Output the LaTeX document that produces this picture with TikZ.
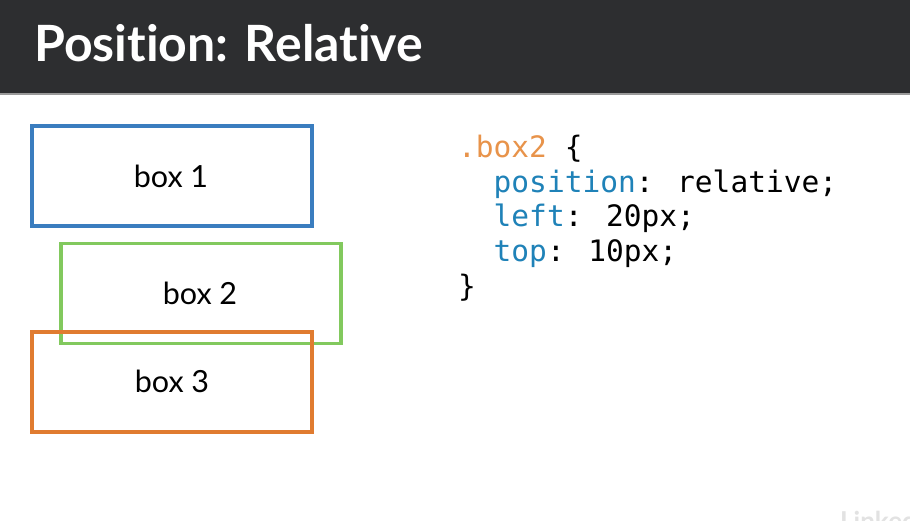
\documentclass[tikz,border=0pt]{standalone}
\usepackage{fontspec}
\setmainfont{Lato}[Ligatures=NoCommon]
\newfontfamily\codefont{DejaVu Sans Mono}
\newfontfamily\titlefont{Lato}[UprightFont=* Bold, Ligatures=NoCommon]
\definecolor{barbg}{HTML}{2D2E30}
\definecolor{barline}{HTML}{9A9A9A}
\definecolor{boxblue}{HTML}{3A7DBF}
\definecolor{boxgreen}{HTML}{82C95E}
\definecolor{boxorange}{HTML}{E07B30}
\definecolor{codeorange}{HTML}{E8934A}
\definecolor{codeblue}{HTML}{1F82B8}
\definecolor{marklight}{HTML}{E2E2E2}
\tikzset{
  panel/.style={draw, line width=3.2pt, minimum width=280pt, minimum height=100pt, inner sep=0pt},
  label/.style={font=\fontsize{30.5}{32}\selectfont, inner sep=0pt},
  codeline/.style={anchor=base west, inner sep=0pt, font=\codefont\fontsize{29.5}{32}\selectfont}
}
\begin{document}
\begin{tikzpicture}[x=1pt, y=-1pt]
  \useasboundingbox (0,0) rectangle (910,520);
  \fill[white] (0,0) rectangle (910,520);
  % title bar
  \fill[barbg] (0,0) rectangle (910,94);
  \fill[barline] (0,93) rectangle (910,95);
  \node[anchor=base west, inner sep=0pt, text=white, font=\titlefont\fontsize{50}{52}\selectfont] (title) at (34,61) {Position: Relative};
  % boxes
  \node[panel, draw=boxblue] (b1) at (172,176) {};
  \node[panel, draw=boxgreen] (b2) at (201,293.5) {};
  \node[panel, draw=boxorange] (b3) at (172,382) {};
  \node[label] (l1) at (171,176) {box 1};
  \node[label] (l2) at (200,293) {box 2};
  \node[label] (l3) at (172,381) {box 3};
  % css rule
  \node[codeline, text=codeorange] (c1) at (458,157) {.box2\textcolor{black}{\ \{}};
  \node[codeline, text=codeblue] (c2) at (458,192) {\ \ position\textcolor{black}{: relative;}};
  \node[codeline, text=codeblue] (c3) at (458,226.5) {\ \ left\textcolor{black}{: 20px;}};
  \node[codeline, text=codeblue] (c4) at (458,261) {\ \ top\textcolor{black}{: 10px;}};
  \node[codeline] (c5) at (458,296) {\}};
  % corner mark
  \begin{scope}
    \clip (0,0) rectangle (910,520);
    \node[anchor=base west, inner sep=0pt, text=marklight, font=\titlefont\fontsize{26}{28}\selectfont] (mark) at (840,530) {LinkedIn};
  \end{scope}
\end{tikzpicture}
\end{document}
